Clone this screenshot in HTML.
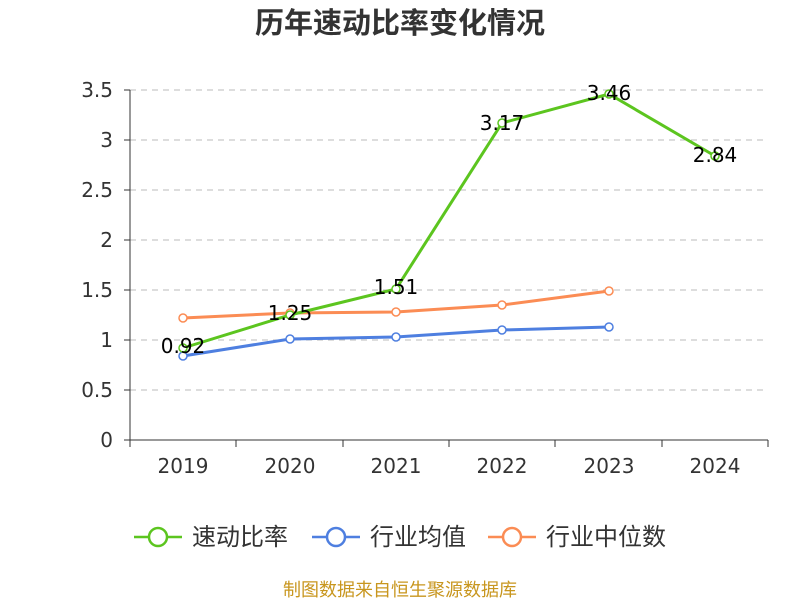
<!DOCTYPE html>
<html><head><meta charset="utf-8"><style>
body{margin:0;background:#fff;}
svg text{font-family:"DejaVu Sans","Noto Sans CJK SC",sans-serif;}
</style></head><body>
<svg width="800" height="600" xmlns="http://www.w3.org/2000/svg">
<text x="400" y="33" text-anchor="middle" font-size="29" font-weight="bold" fill="#333" style="font-family:'Noto Sans CJK SC',sans-serif">历年速动比率变化情况</text>
<g stroke="#bbb" stroke-dasharray="6,5" stroke-width="1">
<line x1="130" x2="768" y1="90" y2="90"/><line x1="130" x2="768" y1="140" y2="140"/>
<line x1="130" x2="768" y1="190" y2="190"/><line x1="130" x2="768" y1="240" y2="240"/>
<line x1="130" x2="768" y1="290" y2="290"/><line x1="130" x2="768" y1="340" y2="340"/>
<line x1="130" x2="768" y1="390" y2="390"/>
</g>
<g stroke="#333" stroke-width="1">
<line x1="130" x2="130" y1="90" y2="440"/>
<line x1="130" x2="768" y1="440" y2="440"/>
<line x1="124" x2="130" y1="90" y2="90"/><line x1="124" x2="130" y1="140" y2="140"/><line x1="124" x2="130" y1="190" y2="190"/><line x1="124" x2="130" y1="240" y2="240"/><line x1="124" x2="130" y1="290" y2="290"/><line x1="124" x2="130" y1="340" y2="340"/><line x1="124" x2="130" y1="390" y2="390"/><line x1="124" x2="130" y1="440" y2="440"/>
<line x1="130" x2="130" y1="440" y2="447"/><line x1="236" x2="236" y1="440" y2="447"/><line x1="343" x2="343" y1="440" y2="447"/><line x1="449" x2="449" y1="440" y2="447"/><line x1="555" x2="555" y1="440" y2="447"/><line x1="662" x2="662" y1="440" y2="447"/><line x1="768" x2="768" y1="440" y2="447"/>
</g>
<g font-size="20" fill="#333" text-anchor="end">
<text x="113" y="97">3.5</text><text x="113" y="147">3</text><text x="113" y="197">2.5</text><text x="113" y="247">2</text><text x="113" y="297">1.5</text><text x="113" y="347">1</text><text x="113" y="397">0.5</text><text x="113" y="447">0</text>
</g>
<g font-size="20" fill="#333" text-anchor="middle">
<text x="183" y="473">2019</text><text x="290" y="473">2020</text><text x="396" y="473">2021</text><text x="502" y="473">2022</text><text x="609" y="473">2023</text><text x="715" y="473">2024</text>
</g>
<polyline fill="none" stroke="#fb8c54" stroke-width="3" points="183,318 290,313 396,312 502,305 609,291"/>
<polyline fill="none" stroke="#4e7fe0" stroke-width="3" points="183,356 290,339 396,337 502,330 609,327"/>
<polyline fill="none" stroke="#5cc51f" stroke-width="3" points="183,348 290,315 396,289 502,123 609,94 715,156"/>
<g fill="#fff" stroke-width="1.5">
<g stroke="#fb8c54"><circle cx="183" cy="318" r="4"/><circle cx="290" cy="313" r="4"/><circle cx="396" cy="312" r="4"/><circle cx="502" cy="305" r="4"/><circle cx="609" cy="291" r="4"/></g>
<g stroke="#4e7fe0"><circle cx="183" cy="356" r="4"/><circle cx="290" cy="339" r="4"/><circle cx="396" cy="337" r="4"/><circle cx="502" cy="330" r="4"/><circle cx="609" cy="327" r="4"/></g>
<g stroke="#5cc51f"><circle cx="183" cy="348" r="4"/><circle cx="290" cy="315" r="4"/><circle cx="396" cy="289" r="4"/><circle cx="502" cy="123" r="4"/><circle cx="609" cy="94" r="4"/><circle cx="715" cy="156" r="4"/></g>
</g>
<g font-size="20" fill="#000" text-anchor="middle">
<text x="183" y="353">0.92</text><text x="290" y="320">1.25</text><text x="396" y="294">1.51</text><text x="502" y="130">3.17</text><text x="609" y="100">3.46</text><text x="715" y="162">2.84</text>
</g>
<g stroke-width="2.5" fill="#fff">
<line x1="134" x2="182" y1="537" y2="537" stroke="#5cc51f"/><circle cx="158" cy="537" r="9" stroke="#5cc51f"/>
<line x1="312" x2="360" y1="537" y2="537" stroke="#4e7fe0"/><circle cx="336" cy="537" r="9" stroke="#4e7fe0"/>
<line x1="488" x2="536" y1="537" y2="537" stroke="#fb8c54"/><circle cx="512" cy="537" r="9" stroke="#fb8c54"/>
</g>
<g font-size="24" fill="#333" style="font-family:'Noto Sans CJK SC',sans-serif">
<text x="192" y="545">速动比率</text><text x="370" y="545">行业均值</text><text x="546" y="545">行业中位数</text>
</g>
<text x="400" y="596" text-anchor="middle" font-size="18" fill="#c8961e" style="font-family:'Noto Sans CJK SC',sans-serif">制图数据来自恒生聚源数据库</text>
</svg>
</body></html>
